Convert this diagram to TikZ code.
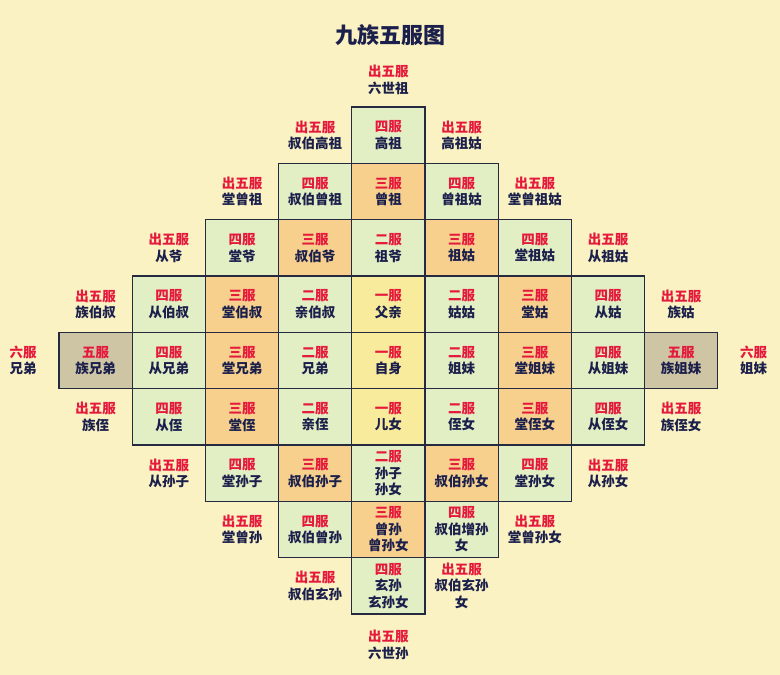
\documentclass[tikz,border=0pt]{standalone}
\usepackage{fontspec}
\setmainfont{Noto Sans CJK SC}[BoldFont={Noto Sans CJK SC Black}]
\definecolor{bgc}{HTML}{FAF2C2}
\definecolor{gc}{HTML}{E2EEC4}
\definecolor{oc}{HTML}{F7D08E}
\definecolor{yc}{HTML}{F8EC9C}
\definecolor{hc}{HTML}{CEC5A5}
\definecolor{linec}{HTML}{262A40}
\definecolor{txtc}{HTML}{1B1F4B}
\definecolor{redc}{HTML}{E5193C}
\newcommand{\fu}[1]{{\color{redc}#1}}
\tikzset{
  base/.style={rectangle, align=center, text=txtc, inner sep=0pt,
    font=\bfseries\fontsize{13.5}{16.5}\selectfont,
    minimum width=73.2pt, minimum height=56.33pt},
  cellbox/.style={base, draw=linec, line width=1.3pt},
  gcell/.style={cellbox, fill=gc},
  ocell/.style={cellbox, fill=oc},
  ycell/.style={cellbox, fill=yc},
  hcell/.style={cellbox, fill=hc},
  outer/.style={base},
}
\begin{document}
\begin{tikzpicture}
\fill[bgc] (0pt,0pt) rectangle (780pt,-675pt);
\useasboundingbox (0pt,0pt) rectangle (780pt,-675pt);
\node[text=txtc, font=\bfseries\fontsize{22}{26}\selectfont] (title) at (390pt,-35pt) {九族五服图};
\begin{scope}[xshift=95.6pt, yshift=-135.2pt, x=73.2pt, y=-56.33pt]
% top label
\node[outer] (top) at (4,-0.98) {\fu{出五服}\\六世祖};
% row 0
\node[outer] (a30) at (3,0) {\fu{出五服}\\叔伯高祖};
\node[gcell] (a40) at (4,0) {\fu{四服}\\高祖};
\node[outer] (a50) at (5,0) {\fu{出五服}\\高祖姑};
% row 1
\node[outer] (a21) at (2,1) {\fu{出五服}\\堂曾祖};
\node[gcell] (a31) at (3,1) {\fu{四服}\\叔伯曾祖};
\node[ocell] (a41) at (4,1) {\fu{三服}\\曾祖};
\node[gcell] (a51) at (5,1) {\fu{四服}\\曾祖姑};
\node[outer] (a61) at (6,1) {\fu{出五服}\\堂曾祖姑};
% row 2
\node[outer] (a12) at (1,2) {\fu{出五服}\\从爷};
\node[gcell] (a22) at (2,2) {\fu{四服}\\堂爷};
\node[ocell] (a32) at (3,2) {\fu{三服}\\叔伯爷};
\node[gcell] (a42) at (4,2) {\fu{二服}\\祖爷};
\node[ocell] (a52) at (5,2) {\fu{三服}\\祖姑};
\node[gcell] (a62) at (6,2) {\fu{四服}\\堂祖姑};
\node[outer] (a72) at (7,2) {\fu{出五服}\\从祖姑};
% row 3
\node[outer] (a03) at (0,3) {\fu{出五服}\\族伯叔};
\node[gcell] (a13) at (1,3) {\fu{四服}\\从伯叔};
\node[ocell] (a23) at (2,3) {\fu{三服}\\堂伯叔};
\node[gcell] (a33) at (3,3) {\fu{二服}\\亲伯叔};
\node[ycell] (a43) at (4,3) {\fu{一服}\\父亲};
\node[gcell] (a53) at (5,3) {\fu{二服}\\姑姑};
\node[ocell] (a63) at (6,3) {\fu{三服}\\堂姑};
\node[gcell] (a73) at (7,3) {\fu{四服}\\从姑};
\node[outer] (a83) at (8,3) {\fu{出五服}\\族姑};
% row 4
\node[outer] (am4) at (-0.99,4) {\fu{六服}\\兄弟};
\node[hcell] (a04) at (0,4) {\fu{五服}\\族兄弟};
\node[gcell] (a14) at (1,4) {\fu{四服}\\从兄弟};
\node[ocell] (a24) at (2,4) {\fu{三服}\\堂兄弟};
\node[gcell] (a34) at (3,4) {\fu{二服}\\兄弟};
\node[ycell] (a44) at (4,4) {\fu{一服}\\自身};
\node[gcell] (a54) at (5,4) {\fu{二服}\\姐妹};
\node[ocell] (a64) at (6,4) {\fu{三服}\\堂姐妹};
\node[gcell] (a74) at (7,4) {\fu{四服}\\从姐妹};
\node[hcell] (a84) at (8,4) {\fu{五服}\\族姐妹};
\node[outer] (a94) at (8.99,4) {\fu{六服}\\姐妹};
% row 5
\node[outer] (a05) at (0,5) {\fu{出五服}\\族侄};
\node[gcell] (a15) at (1,5) {\fu{四服}\\从侄};
\node[ocell] (a25) at (2,5) {\fu{三服}\\堂侄};
\node[gcell] (a35) at (3,5) {\fu{二服}\\亲侄};
\node[ycell] (a45) at (4,5) {\fu{一服}\\儿女};
\node[gcell] (a55) at (5,5) {\fu{二服}\\侄女};
\node[ocell] (a65) at (6,5) {\fu{三服}\\堂侄女};
\node[gcell] (a75) at (7,5) {\fu{四服}\\从侄女};
\node[outer] (a85) at (8,5) {\fu{出五服}\\族侄女};
% row 6
\node[outer] (a16) at (1,6) {\fu{出五服}\\从孙子};
\node[gcell] (a26) at (2,6) {\fu{四服}\\堂孙子};
\node[ocell] (a36) at (3,6) {\fu{三服}\\叔伯孙子};
\node[gcell] (a46) at (4,6) {\fu{二服}\\孙子\\孙女};
\node[ocell] (a56) at (5,6) {\fu{三服}\\叔伯孙女};
\node[gcell] (a66) at (6,6) {\fu{四服}\\堂孙女};
\node[outer] (a76) at (7,6) {\fu{出五服}\\从孙女};
% row 7
\node[outer] (a27) at (2,7) {\fu{出五服}\\堂曾孙};
\node[gcell] (a37) at (3,7) {\fu{四服}\\叔伯曾孙};
\node[ocell] (a47) at (4,7) {\fu{三服}\\曾孙\\曾孙女};
\node[gcell] (a57) at (5,7) {\fu{四服}\\叔伯增孙\\女};
\node[outer] (a67) at (6,7) {\fu{出五服}\\堂曾孙女};
% row 8
\node[outer] (a38) at (3,8) {\fu{出五服}\\叔伯玄孙};
\node[gcell] (a48) at (4,8) {\fu{四服}\\玄孙\\玄孙女};
\node[outer] (a58) at (5,8) {\fu{出五服}\\叔伯玄孙\\女};
% bottom label
\node[outer] (bot) at (4,9.05) {\fu{出五服}\\六世孙};
\end{scope}
\end{tikzpicture}
\end{document}
